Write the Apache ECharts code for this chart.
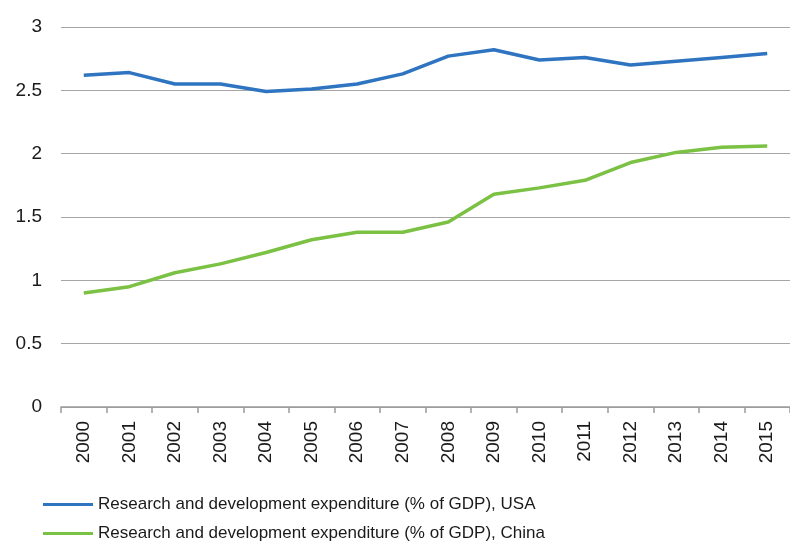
<!DOCTYPE html>
<html><head><meta charset="utf-8">
<script src="https://cdn.jsdelivr.net/npm/echarts@6/dist/echarts.min.js"></script>
<style>html,body{margin:0;padding:0;background:#fff}#c{width:790px;height:541px}</style>
</head><body><div id="c"></div>
<script>
const years = ['2000','2001','2002','2003','2004','2005','2006','2007','2008','2009','2010','2011','2012','2013','2014','2015'];
const usa = [2.62,2.64,2.55,2.55,2.49,2.51,2.55,2.63,2.77,2.82,2.74,2.76,2.70,2.73,2.76,2.79];
const china = [0.90,0.95,1.06,1.13,1.22,1.32,1.38,1.38,1.46,1.68,1.73,1.79,1.93,2.01,2.05,2.06];
const nameUSA = 'Research and development expenditure (% of GDP), USA';
const nameChina = 'Research and development expenditure (% of GDP), China';
const font = 'Liberation Sans, Arial, sans-serif';
const legendText = {fontSize:17, color:'#1a1a1a', fontFamily:font};
const chart = echarts.init(document.getElementById('c'));
chart.setOption({
  animation:false,
  grid:{left:61, top:27, width:734, height:380},
  xAxis:{type:'category', data:years, boundaryGap:true,
    axisLine:{lineStyle:{color:'#9a9a9a', width:1.5}},
    axisTick:{show:true, length:6, lineStyle:{color:'#9a9a9a', width:1.5}},
    axisLabel:{rotate:90, margin:14, fontSize:19, color:'#1a1a1a', fontFamily:font}},
  yAxis:{type:'value', min:0, max:3, interval:0.5,
    axisLine:{show:false}, axisTick:{show:false},
    splitLine:{lineStyle:{color:'#a6a6a6', width:1.2}},
    axisLabel:{margin:19, fontSize:19, color:'#1a1a1a', fontFamily:font}},
  legend:[
    {left:43, top:496, itemWidth:50, itemHeight:3, padding:0, textStyle:legendText,
     data:[{name:nameUSA, icon:'rect'}]},
    {left:43, top:525, itemWidth:50, itemHeight:3, padding:0, textStyle:legendText,
     data:[{name:nameChina, icon:'rect'}]}
  ],
  series:[
    {name:nameUSA, type:'line', data:usa, symbol:'none', lineStyle:{color:'#2e74c0', width:3.5}, itemStyle:{color:'#2e74c0'}},
    {name:nameChina, type:'line', data:china, symbol:'none', lineStyle:{color:'#7bc143', width:3.5}, itemStyle:{color:'#7bc143'}}
  ]
});
</script></body></html>
